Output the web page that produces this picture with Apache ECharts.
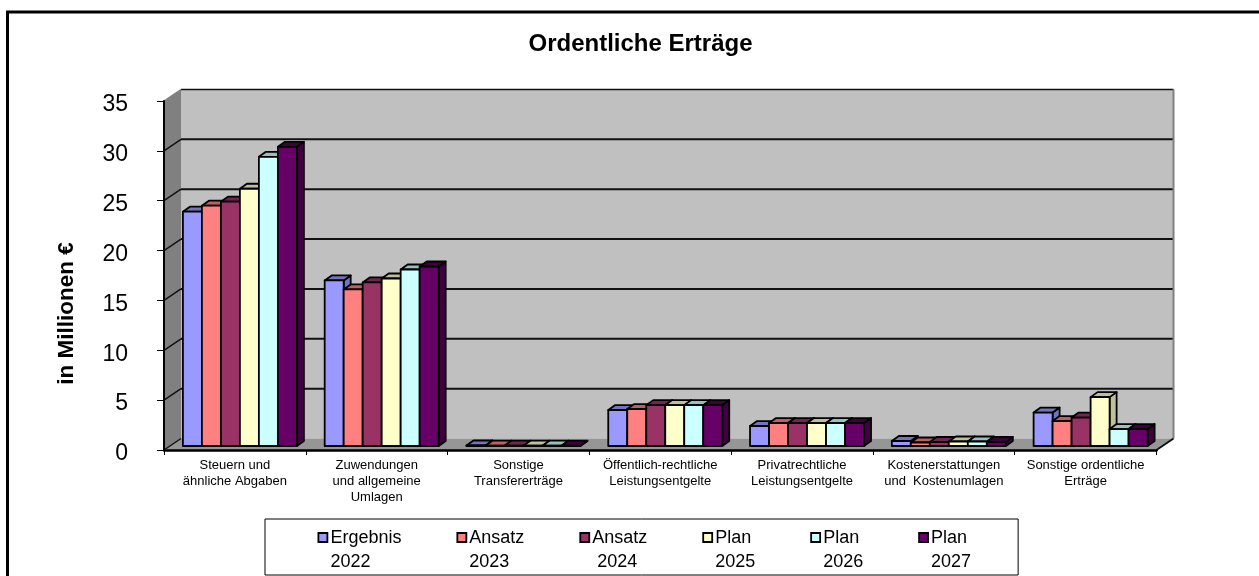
<!DOCTYPE html>
<html>
<head>
<meta charset="utf-8">
<style>html,body{margin:0;padding:0;background:#fff;overflow:hidden}#c{width:1259px;height:576px}</style>
<script src="https://cdn.jsdelivr.net/npm/echarts@6/dist/echarts.min.js"></script>
</head>
<body>
<div id="c"></div>
<script>
const categories = [
  "Steuern und\nähnliche Abgaben",
  "Zuwendungen\nund allgemeine\nUmlagen",
  "Sonstige\nTransfererträge",
  "Öffentlich-rechtliche\nLeistungsentgelte",
  "Privatrechtliche\nLeistungsentgelte",
  "Kostenerstattungen\nund  Kostenumlagen",
  "Sonstige ordentliche\nErträge"
];
const seriesNames = ["Ergebnis\n2022", "Ansatz\n2023", "Ansatz\n 2024", "Plan\n2025", "Plan\n2026", "Plan\n2027"];
const ergebnis2022 = [23.5, 16.6, 0.05, 3.6, 2.0, 0.5, 3.35];
const ansatz2023   = [24.1, 15.7, 0.03, 3.7, 2.3, 0.35, 2.5];
const ansatz2024   = [24.5, 16.4, 0.03, 4.1, 2.3, 0.4, 2.85];
const plan2025     = [25.8, 16.8, 0.03, 4.1, 2.3, 0.45, 4.9];
const plan2026     = [29.0, 17.7, 0.03, 4.1, 2.3, 0.45, 1.7];
const plan2027     = [30.0, 18.0, 0.03, 4.1, 2.3, 0.4, 1.7];
const seriesValues = [ergebnis2022, ansatz2023, ansatz2024, plan2025, plan2026, plan2027];
const seriesColors = ["#9999FF", "#FF8080", "#993366", "#FFFFCC", "#CCFFFF", "#660066"];
const topColors    = ["#7373BF", "#BF6060", "#73264D", "#BFBF99", "#99BFBF", "#400040"];
const sideColors   = ["#7373BF", "#BF6060", "#73264D", "#BFBF99", "#99BFBF", "#400040"];
const yTicks = [0, 5, 10, 15, 20, 25, 30, 35];

const FONT = '"Liberation Sans", Arial, sans-serif';
const wall = { dx: 17, dy: -11.5 };
const barDepth = { dx: 7, dy: -5 };
const barPlane = { dx: 5, dy: -4 };
const barShare = 0.134;

function renderWalls(params, api) {
  const r = params.coordSys;
  const L = r.x, R = r.x + r.width, B = r.y + r.height;
  const yTop = api.coord([0, 35])[1];
  const line = (x1, y1, x2, y2, stroke, w) => ({
    type: 'line', shape: { x1, y1, x2, y2 }, style: { stroke, lineWidth: w }
  });
  const poly = (pts, fill) => ({ type: 'polygon', shape: { points: pts }, style: { fill } });
  const ch = [];
  ch.push(poly([[L + wall.dx, yTop + wall.dy], [R + wall.dx, yTop + wall.dy], [R + wall.dx, B + wall.dy], [L + wall.dx, B + wall.dy]], '#C0C0C0'));
  ch.push(poly([[L, yTop], [L + wall.dx, yTop + wall.dy], [L + wall.dx, B + wall.dy], [L, B]], '#808080'));
  ch.push(poly([[L, B], [L + wall.dx, B + wall.dy], [R + wall.dx, B + wall.dy], [R, B]], '#969696'));
  yTicks.forEach(v => {
    const y = api.coord([0, v])[1];
    if (v > 0) {
      ch.push(line(L + wall.dx, y + wall.dy, R + wall.dx, y + wall.dy, '#111', v === 35 ? 1.5 : 2));
    }
    if (v < 35) ch.push(line(L, y, L + wall.dx, y + wall.dy, '#111', 1.5));
  });
  ch.push(line(L, yTop, L + wall.dx, yTop + wall.dy, '#808080', 1.5));
  ch.push(line(R + wall.dx, yTop + wall.dy, R + wall.dx, B + wall.dy, '#808080', 2));
  ch.push(line(R, B, R + wall.dx, B + wall.dy, '#111', 2));
  return { type: 'group', children: ch };
}

function makeBarRenderer(idx) {
  return function (params, api) {
    const cat = api.value(0), val = api.value(1);
    const c = api.coord([cat, val]);
    const base = api.coord([cat, 0]);
    const w = api.size([1, 0])[0] * barShare;
    const x0 = c[0] + barPlane.dx - 3 * w + idx * w;
    const x1 = x0 + w;
    const yb = base[1] + barPlane.dy;
    const yt = c[1] + barPlane.dy;
    const st = fill => ({ fill, stroke: '#000', lineWidth: 1.8, lineJoin: 'round' });
    return {
      type: 'group',
      children: [
        { type: 'polygon', shape: { points: [[x1, yt], [x1 + barDepth.dx, yt + barDepth.dy], [x1 + barDepth.dx, yb + barDepth.dy], [x1, yb]] }, style: st(sideColors[idx]) },
        { type: 'polygon', shape: { points: [[x0, yt], [x0 + barDepth.dx, yt + barDepth.dy], [x1 + barDepth.dx, yt + barDepth.dy], [x1, yt]] }, style: st(topColors[idx]) },
        { type: 'rect', shape: { x: x0, y: yt, width: w, height: yb - yt }, style: st(seriesColors[idx]) }
      ]
    };
  };
}

const barSeries = seriesNames.map((name, i) => ({
  type: 'custom',
  name,
  coordinateSystem: 'cartesian2d',
  renderItem: makeBarRenderer(i),
  encode: { x: 0, y: 1 },
  itemStyle: { color: seriesColors[i] },
  z: 3,
  data: seriesValues[i].map((v, k) => [k, v])
}));

const chart = echarts.init(document.getElementById('c'), null, { renderer: 'canvas' });
chart.setOption({
  animation: false,
  backgroundColor: '#fff',
  textStyle: { fontFamily: FONT, color: '#000' },
  title: {
    text: 'Ordentliche Erträge',
    left: 635.5, top: 27, textAlign: 'center',
    textStyle: { fontFamily: FONT, fontWeight: 'bold', fontSize: 24, color: '#000' }
  },
  grid: { left: 164, right: 102.5, top: 101, bottom: 126 },
  xAxis: {
    type: 'category',
    data: categories,
    z: 4,
    axisLine: { lineStyle: { color: '#000', width: 2.5 } },
    axisTick: { show: true, length: 5, alignWithLabel: false, lineStyle: { color: '#000', width: 1 } },
    axisLabel: { interval: 0, margin: 7, fontFamily: FONT, fontSize: 13, lineHeight: 16, color: '#000' }
  },
  yAxis: {
    type: 'value',
    min: 0, max: 35, interval: 5,
    z: 4,
    name: 'in Millionen €',
    nameLocation: 'middle',
    nameGap: 86,
    nameRotate: 90,
    nameTextStyle: { fontFamily: FONT, fontWeight: 'bold', fontSize: 22.5, color: '#000', padding: [0, 76, 0, 0] },
    axisLine: { show: true, lineStyle: { color: '#000', width: 2 } },
    axisTick: { show: true, length: 7, lineStyle: { color: '#000', width: 1 } },
    axisLabel: { margin: 36, fontFamily: FONT, fontSize: 23, color: '#000', verticalAlign: 'top', lineHeight: 8 },
    splitLine: { show: false }
  },
  legend: {
    data: seriesNames,
    left: 265, top: 519,
    orient: 'horizontal',
    padding: [7, 47, 1, 52.5],
    borderColor: '#000', borderWidth: 1,
    itemGap: 55, itemWidth: 9, itemHeight: 34,
    icon: 'path://M0 0H9V9H0Z M0 34H0',
    itemStyle: { borderColor: '#000', borderWidth: 1.8 },
    selectedMode: false,
    textStyle: { fontFamily: FONT, fontSize: 18, lineHeight: 24, color: '#000', padding: [0, 0, 0, -2] }
  },
  graphic: [{
    type: 'polyline', silent: true, z: 10,
    shape: { points: [[7.5, 576], [7.5, 12], [1259, 12]] },
    style: { stroke: '#000', lineWidth: 3, fill: null }
  }],
  series: [{
    type: 'custom',
    coordinateSystem: 'cartesian2d',
    renderItem: renderWalls,
    silent: true,
    z: 1,
    data: [[0, 0]]
  }].concat(barSeries)
});
</script>
</body>
</html>
